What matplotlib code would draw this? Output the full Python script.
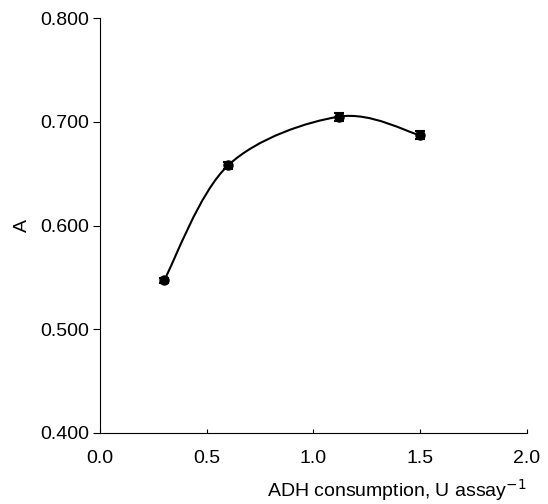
import matplotlib.pyplot as plt
import numpy as np
from matplotlib.path import Path
from matplotlib.patches import PathPatch

plt.rcParams["font.family"] = ["Liberation Sans", "DejaVu Sans"]

# data
adh = [0.3, 0.6, 1.12, 1.5]
absorb = [0.547, 0.658, 0.705, 0.687]
err = [0.002, 0.003, 0.004, 0.004]
xticks = [0.0, 0.5, 1.0, 1.5, 2.0]
yticks = [0.4, 0.5, 0.6, 0.7, 0.8]


def smooth_path(x, y, t=1.0 / 6):
    """Excel-like smoothed line: cubic Bezier with Catmull-Rom control points."""
    pts = np.column_stack([x, y])
    verts = [pts[0]]
    codes = [Path.MOVETO]
    n = len(pts)
    for i in range(n - 1):
        p0 = pts[i - 1] if i > 0 else pts[i]
        p1, p2 = pts[i], pts[i + 1]
        p3 = pts[i + 2] if i + 2 < n else pts[i + 1]
        c1 = p1 + (p2 - p0) * t
        c2 = p2 - (p3 - p1) * t
        verts += [c1, c2, p2]
        codes += [Path.CURVE4] * 3
    return Path(verts, codes)


fig = plt.figure(figsize=(5.48, 5.04), dpi=100, facecolor="w")
ax = fig.add_axes([0.1825, 0.141, 0.779, 0.823])

ax.add_patch(PathPatch(smooth_path(adh, absorb), fc="none", ec="k", lw=1.5))
ax.errorbar(adh, absorb, yerr=err, fmt="o", color="k", ms=6.5,
            capsize=3.5, elinewidth=1.2, capthick=1.5)

ax.set_xlim(0, 2.0)
ax.set_ylim(0.4, 0.8)
ax.set_xticks(xticks)
ax.set_yticks(yticks)
ax.set_xticklabels([f"{v:.1f}" for v in xticks])
ax.set_yticklabels([f"{v:.3f}" for v in yticks])
ax.tick_params(axis="x", direction="in", length=3, pad=12.5, labelsize=14)
ax.tick_params(axis="y", direction="out", length=5, pad=3, labelsize=14)
for spine in ("top", "right"):
    ax.spines[spine].set_visible(False)

ax.set_xlabel("ADH consumption, U assay$^{-1}$", loc="right", fontsize=14,
              labelpad=7)
ax.set_ylabel("A", fontsize=14, labelpad=6.5)

plt.savefig("out.png", dpi=100)
